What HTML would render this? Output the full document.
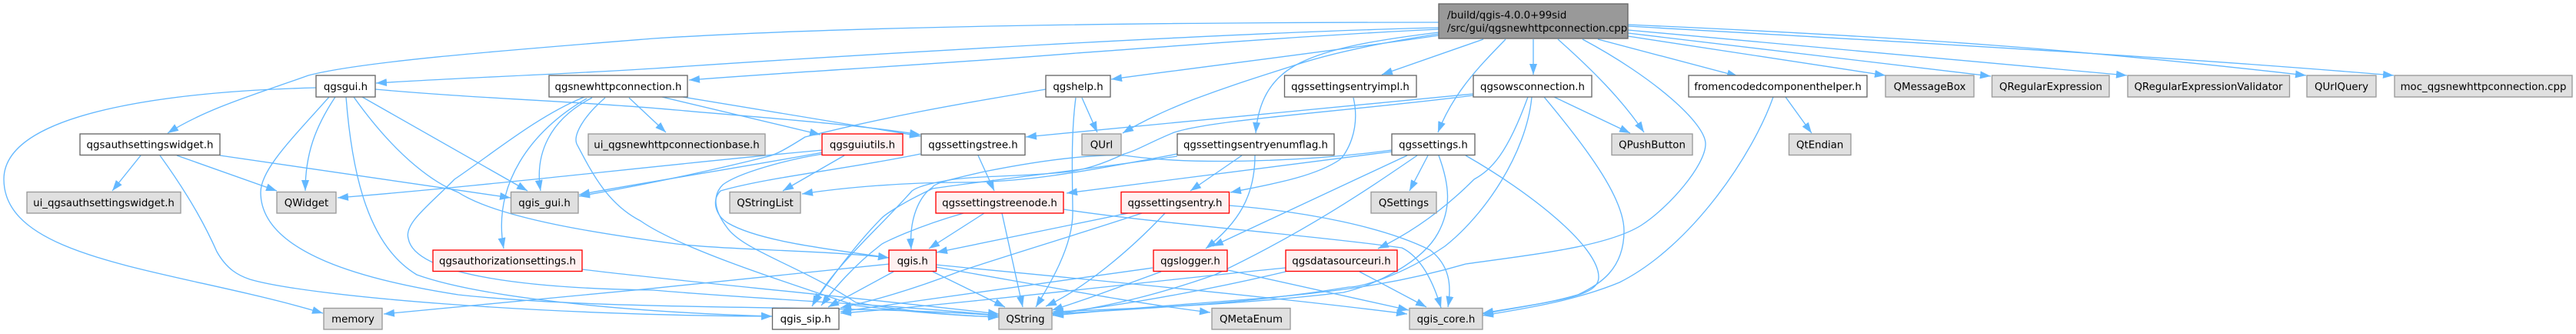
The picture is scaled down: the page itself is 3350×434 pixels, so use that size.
<!DOCTYPE html>
<html><head><meta charset="utf-8"><style>
html,body{margin:0;padding:0;background:#fff;width:3350px;height:434px;overflow:hidden}
svg{display:block}
text{font-family:"DejaVu Sans","Liberation Sans",sans-serif;font-size:13.33px;fill:#000;text-anchor:middle}
.e path{fill:none;stroke:#63b8ff;stroke-width:1.33;marker-end:url(#a)}
.w{fill:#fff;stroke:#666;stroke-width:1.33}
.g{fill:#e0e0e0;stroke:#999;stroke-width:1.33}
.r{fill:#fff0f0;stroke:#f00;stroke-width:1.33}
.k{fill:#999;stroke:#666;stroke-width:1.33}
</style></head><body>
<svg width="3350" height="434" viewBox="0 0 3350 434" xmlns="http://www.w3.org/2000/svg">
<defs><marker id="a" markerUnits="userSpaceOnUse" viewBox="0 0 14 10" refX="14" refY="5" markerWidth="14" markerHeight="10" orient="auto"><path d="M0,0L14,5L0,10z" fill="#63b8ff"/></marker></defs>
<g class="e">
<path d="M1871,29C1500,29 1100,34 850,50C650,66 470,80 401,98C340,120 270,140 218,173"/>
<path d="M1871,36C1600,42 1100,72 850,89C720,97 600,101 489,108"/>
<path d="M1871,38C1700,46 1500,62 1400,69C1200,85 1050,92 896,104"/>
<path d="M1871,46C1750,64 1600,82 1445,103"/>
<path d="M1871,44C1780,58 1720,72 1677,87C1620,105 1590,115 1550,130C1520,142 1490,155 1460,173"/>
<path d="M1871,42C1790,52 1730,62 1690,82C1650,102 1636,135 1633,173"/>
<path d="M1929,51L1797,97"/>
<path d="M1958,51C1925,85 1890,120 1870,172"/>
<path d="M1994,51L1994,97"/>
<path d="M2026,51C2070,90 2110,130 2138,172"/>
<path d="M2058,51C2150,100 2218,160 2218,187C2218,215 2170,270 2134,293C2090,320 2000,330 1906,343C1830,365 1760,377 1647,387C1550,395 1450,402 1369,410"/>
<path d="M2078,51L2260,99"/>
<path d="M2117,47L2452,98"/>
<path d="M2117,43L2589,99"/>
<path d="M2117,39L2766,98"/>
<path d="M2117,32C2500,49 2700,64 2999,98"/>
<path d="M2117,34C2500,56 2800,72 3113,98"/>
<path d="M411,114C250,118 5,140 5,233C5,340 230,350 420,407"/>
<path d="M436,126C410,165 397,200 397,248"/>
<path d="M471,126L686,248"/>
<path d="M450,126C458,230 480,320 542,357C620,385 800,405 1004,411"/>
<path d="M428,126C380,180 339,220 339,250C339,330 480,365 596,383C800,405 1100,395 1299,410"/>
<path d="M460,126C520,210 570,240 596,250C650,285 790,305 880,317C950,325 1070,325 1156,335"/>
<path d="M488,116C620,128 760,132 880,143C980,152 1100,160 1197,175"/>
<path d="M818,127L866,172"/>
<path d="M770,127C715,155 695,200 703,248"/>
<path d="M763,128C690,170 640,240 655,323"/>
<path d="M760,126C700,150 640,200 591,233C560,265 525,290 531,310C540,360 700,375 850,377C1000,390 1150,395 1299,410"/>
<path d="M787,127C760,150 745,175 750,187C770,225 790,265 833,287C880,320 1000,360 1113,397C1180,405 1240,410 1299,412"/>
<path d="M861,126L1067,175"/>
<path d="M888,126L1197,177"/>
<path d="M757,350C850,362 1100,385 1299,408"/>
<path d="M208,202C250,260 270,300 282,327C295,350 310,358 325,363C400,385 700,410 1004,411"/>
<path d="M183,202L146,248"/>
<path d="M230,202L360,248"/>
<path d="M286,202L664,257"/>
<path d="M1157,343C950,365 700,390 499,408"/>
<path d="M1162,353L1077,399"/>
<path d="M1213,353L1307,399"/>
<path d="M1217,347C1350,370 1480,395 1574,406"/>
<path d="M1217,344C1400,362 1650,385 1830,408"/>
<path d="M1070,195C850,215 650,240 439,257"/>
<path d="M1070,198C950,220 820,240 753,253"/>
<path d="M1360,116C1280,130 1180,145 1047,178C1020,195 1010,200 1000,203C900,228 810,245 753,255"/>
<path d="M1098,202L1018,248"/>
<path d="M1070,200C1020,208 960,225 940,240C925,255 930,275 945,295C965,325 1040,345 1113,393C1180,405 1240,410 1299,412"/>
<path d="M1197,200C1100,220 1000,230 937,248C925,260 930,280 947,290C990,315 1090,325 1156,335"/>
<path d="M1272,202L1293,248"/>
<path d="M1280,277L1208,323"/>
<path d="M1253,277C1190,295 1150,315 1147,317C1110,345 1085,375 1068,397"/>
<path d="M1303,277L1330,399"/>
<path d="M1383,272C1500,290 1700,305 1823,322C1850,335 1865,370 1874,400"/>
<path d="M1467,277L1218,328"/>
<path d="M1485,277C1400,305 1300,335 1247,353C1190,375 1140,390 1093,400"/>
<path d="M1515,277C1470,325 1410,375 1360,398"/>
<path d="M1598,267C1700,275 1800,295 1860,325C1885,345 1888,370 1883,399"/>
<path d="M1499,348C1350,370 1200,390 1093,405"/>
<path d="M1510,353C1450,375 1410,390 1368,403"/>
<path d="M1597,351L1832,403"/>
<path d="M1672,348C1500,365 1250,395 1093,407"/>
<path d="M1672,353C1600,370 1480,395 1368,407"/>
<path d="M1768,353L1855,399"/>
<path d="M1615,202L1548,248"/>
<path d="M1632,202C1632,255 1610,290 1568,323"/>
<path d="M1531,200C1400,225 1330,237 1250,237C1180,237 1100,243 1043,252"/>
<path d="M1531,203C1400,222 1280,235 1213,245C1170,265 1150,280 1147,283C1110,320 1075,370 1057,395"/>
<path d="M1810,195C1700,210 1550,215 1463,202C1400,200 1320,215 1280,223C1240,232 1215,238 1213,243C1195,255 1182,285 1185,324"/>
<path d="M1810,197L1387,251"/>
<path d="M1857,202L1833,248"/>
<path d="M1871,202C1885,240 1888,270 1870,303C1850,340 1790,370 1747,380C1620,395 1500,400 1369,405"/>
<path d="M1906,202C1990,250 2079,320 2079,360C2079,385 2030,390 1928,407"/>
<path d="M1830,202L1577,320"/>
<path d="M1843,202C1780,245 1700,300 1580,357C1500,385 1440,398 1369,409"/>
<path d="M1760,127C1770,170 1750,200 1743,207C1710,230 1650,240 1600,250"/>
<path d="M1407,127L1427,172"/>
<path d="M1399,127C1392,180 1395,240 1395,277C1395,320 1365,370 1347,399"/>
<path d="M1916,122L1334,178"/>
<path d="M1916,124C1750,145 1580,155 1527,172C1495,185 1480,195 1462,200C1430,215 1410,220 1392,223C1330,230 1260,228 1229,235C1200,240 1190,245 1186,248C1140,300 1085,345 1056,398"/>
<path d="M1987,126C1960,200 1940,220 1917,233C1880,270 1840,300 1792,323"/>
<path d="M1992,126C1985,200 1930,280 1879,320C1820,360 1770,373 1754,373C1620,395 1500,400 1369,408"/>
<path d="M2008,126C2070,200 2112,260 2112,300C2112,350 2080,370 2052,383C2010,395 1970,400 1928,408"/>
<path d="M2021,126L2120,173"/>
<path d="M2322,126L2356,173"/>
<path d="M2306,126C2280,200 2200,320 2106,367C2050,390 1990,400 1928,410"/>
</g>
<g>
<rect class="k" x="1871" y="5" width="246" height="45"/>
<text x="1882" y="24" style="text-anchor:start">/build/qgis-4.0.0+99sid</text>
<text x="1882" y="41" style="text-anchor:start">/src/gui/qgsnewhttpconnection.cpp</text>
<rect class="w" x="411" y="98" width="77" height="28"/><text x="449.5" y="117">qgsgui.h</text>
<rect class="w" x="714" y="98" width="180" height="28"/><text x="804" y="117">qgsnewhttpconnection.h</text>
<rect class="w" x="1360" y="98" width="84" height="28"/><text x="1402" y="117">qgshelp.h</text>
<rect class="w" x="1670.5" y="98" width="171.5" height="28"/><text x="1756" y="117">qgssettingsentryimpl.h</text>
<rect class="w" x="1916" y="98" width="154" height="28"/><text x="1993" y="117">qgsowsconnection.h</text>
<rect class="w" x="2196" y="98" width="232" height="28"/><text x="2312" y="117">fromencodedcomponenthelper.h</text>
<rect class="g" x="2452" y="98" width="115" height="28"/><text x="2509.5" y="117">QMessageBox</text>
<rect class="g" x="2590.5" y="98" width="152.5" height="28"/><text x="2667" y="117">QRegularExpression</text>
<rect class="g" x="2767" y="98" width="210.5" height="28"/><text x="2872" y="117">QRegularExpressionValidator</text>
<rect class="g" x="3000" y="98" width="90" height="28"/><text x="3045" y="117">QUrlQuery</text>
<rect class="g" x="3114" y="98" width="231" height="28"/><text x="3229.5" y="117">moc_qgsnewhttpconnection.cpp</text>
<rect class="w" x="104" y="174" width="182" height="27.5"/><text x="195" y="192.5">qgsauthsettingswidget.h</text>
<rect class="g" x="765" y="174" width="230" height="27.5"/><text x="880" y="192.5">ui_qgsnewhttpconnectionbase.h</text>
<rect class="r" x="1069" y="174" width="105" height="27.5"/><text x="1121.5" y="192.5">qgsguiutils.h</text>
<rect class="w" x="1198" y="174" width="135" height="27.5"/><text x="1265.5" y="192.5">qgssettingstree.h</text>
<rect class="g" x="1407" y="174" width="51" height="27.5"/><text x="1432.5" y="192.5">QUrl</text>
<rect class="w" x="1531" y="174" width="204" height="27.5"/><text x="1633" y="192.5">qgssettingsentryenumflag.h</text>
<rect class="w" x="1810" y="174" width="108" height="27.5"/><text x="1864" y="192.5">qgssettings.h</text>
<rect class="g" x="2096" y="174" width="105" height="27.5"/><text x="2148.5" y="192.5">QPushButton</text>
<rect class="g" x="2326.5" y="174" width="80.5" height="27.5"/><text x="2366.7" y="192.5">QtEndian</text>
<rect class="g" x="35" y="249.5" width="200" height="27.5"/><text x="135" y="268">ui_qgsauthsettingswidget.h</text>
<rect class="g" x="360" y="249.5" width="77" height="27.5"/><text x="398.5" y="268">QWidget</text>
<rect class="g" x="664.5" y="249.5" width="87.5" height="27.5"/><text x="708" y="268">qgis_gui.h</text>
<rect class="g" x="949" y="249.5" width="92" height="27.5"/><text x="995" y="268">QStringList</text>
<rect class="r" x="1217" y="249.5" width="166" height="27.5"/><text x="1300" y="268">qgssettingstreenode.h</text>
<rect class="r" x="1458" y="249.5" width="140.5" height="27.5"/><text x="1528" y="268">qgssettingsentry.h</text>
<rect class="g" x="1783" y="249.5" width="85" height="27.5"/><text x="1825.5" y="268">QSettings</text>
<rect class="r" x="563" y="325" width="194" height="27.5"/><text x="660" y="343.5">qgsauthorizationsettings.h</text>
<rect class="r" x="1156" y="325" width="61.5" height="27.5"/><text x="1186.7" y="343.5">qgis.h</text>
<rect class="r" x="1500" y="325" width="96" height="27.5"/><text x="1548" y="343.5">qgslogger.h</text>
<rect class="r" x="1672" y="325" width="145" height="27.5"/><text x="1744.5" y="343.5">qgsdatasourceuri.h</text>
<rect class="g" x="421" y="400.5" width="76" height="27.5"/><text x="459" y="419">memory</text>
<rect class="w" x="1004.5" y="400.5" width="86.5" height="27.5"/><text x="1047.7" y="419">qgis_sip.h</text>
<rect class="g" x="1299" y="400.5" width="69" height="27.5"/><text x="1333.5" y="419">QString</text>
<rect class="g" x="1576" y="400.5" width="102" height="27.5"/><text x="1627" y="419">QMetaEnum</text>
<rect class="g" x="1833" y="400.5" width="95" height="27.5"/><text x="1880.5" y="419">qgis_core.h</text>
</g>
</svg>
</body></html>
